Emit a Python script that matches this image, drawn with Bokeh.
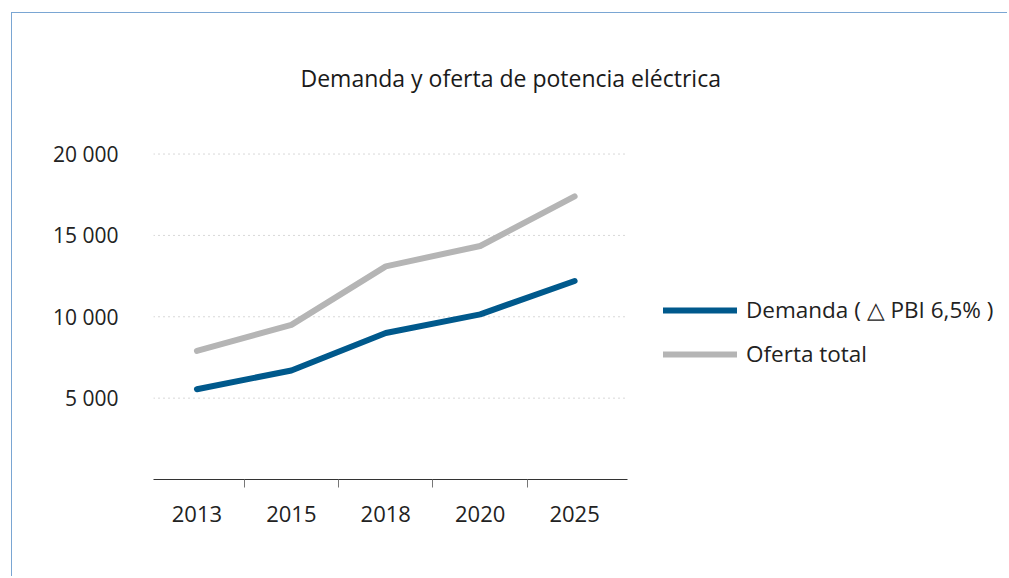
from bokeh.plotting import figure
from bokeh.models import (Range1d, LinearAxis, FixedTicker, Legend, LegendItem, Title)
from bokeh.embed import file_html
from bokeh.resources import INLINE

# ---- data ----
years = ["2013", "2015", "2018", "2020", "2025"]
demanda = [5550, 6700, 9000, 10150, 12200]
oferta = [7900, 9500, 13100, 14350, 17400]
y_ticks = [5000, 10000, 15000, 20000]
y_tick_labels = ["5 000", "10 000", "15 000", "20 000"]
title_text = "Demanda y oferta de potencia eléctrica"
label_demanda = "Demanda ( \u25b3 PBI 6,5% )"
label_oferta = "Oferta total"

FONT = "Open Sans"
TEXT = "#222222"

x = list(range(1, len(years) + 1))

# plotting region: data area is 474 px wide; the frame extends right to hold the legend
W, H = 996, 564
LEFT = 141
AXIS_PX = 474
x0, x1 = 0.54, 5.56
frame_px = W - LEFT
x_end = x0 + (x1 - x0) * frame_px / AXIS_PX

p = figure(width=W, height=H, output_backend="svg", toolbar_location=None,
           x_axis_type=None, y_axis_type=None,
           x_range=Range1d(x0, x_end), y_range=Range1d(0, 22000),
           min_border_left=LEFT, min_border_right=0,
           min_border_top=108, min_border_bottom=H - 108 - 358)
p.outline_line_color = None
p.background_fill_color = "white"
p.border_fill_color = "white"
p.margin = (12, 0, 0, 11)
p.styles = {"border-left": "1px solid #7aa6d3", "border-top": "1px solid #7aa6d3"}

# title
p.title = Title(text=title_text, align="left", offset=147, standoff=55,
                text_font=FONT, text_font_size="23px", text_font_style="normal",
                text_color="#1a1a1a")

# axes
xaxis = LinearAxis(ticker=FixedTicker(ticks=x, minor_ticks=[i + 0.5 for i in x[:-1]]),
                   bounds=(x0, x1))
xaxis.major_label_overrides = {i: yr for i, yr in zip(x, years)}
xaxis.axis_line_color = "#333333"
xaxis.major_tick_in = 0
xaxis.major_tick_out = 0
xaxis.minor_tick_in = 0
xaxis.minor_tick_out = 8
xaxis.minor_tick_line_color = "#777777"
xaxis.major_label_standoff = 18
xaxis.major_label_text_font = FONT
xaxis.major_label_text_font_size = "22px"
xaxis.major_label_text_color = TEXT
p.add_layout(xaxis, "below")

yaxis = LinearAxis(ticker=FixedTicker(ticks=y_ticks))
yaxis.major_label_overrides = {v: s for v, s in zip(y_ticks, y_tick_labels)}
yaxis.axis_line_color = None
yaxis.major_tick_line_color = None
yaxis.minor_tick_line_color = None
yaxis.major_tick_in = 0
yaxis.major_tick_out = 0
yaxis.major_label_standoff = 35
yaxis.major_label_text_font = FONT
yaxis.major_label_text_font_size = "21px"
yaxis.major_label_text_color = TEXT
p.add_layout(yaxis, "left")

# dotted horizontal gridlines limited to the axis extent
p.segment(x0=[x0] * len(y_ticks), x1=[x1] * len(y_ticks), y0=y_ticks, y1=y_ticks,
          line_color="#b0b0b0", line_dash="1 4", line_width=1)

# lines
r_dem = p.line(x, demanda, line_width=6, line_color="#00598c",
               line_cap="round", line_join="round")
r_ofe = p.line(x, oferta, line_width=6, line_color="#b5b5b5",
               line_cap="round", line_join="round")

legend = Legend(items=[LegendItem(label=label_demanda, renderers=[r_dem]),
                       LegendItem(label=label_oferta, renderers=[r_ofe])],
                location=(AXIS_PX + 36, 110))
legend.glyph_width = 74
legend.glyph_height = 20
legend.label_height = 20
legend.spacing = 13
legend.label_standoff = 9
legend.padding = 0
legend.margin = 0
legend.border_line_color = None
legend.background_fill_alpha = 0
legend.label_text_font = FONT
legend.label_text_font_size = "22.5px"
legend.label_text_color = TEXT
p.add_layout(legend)

open("out.html", "w").write(file_html(p, INLINE))
